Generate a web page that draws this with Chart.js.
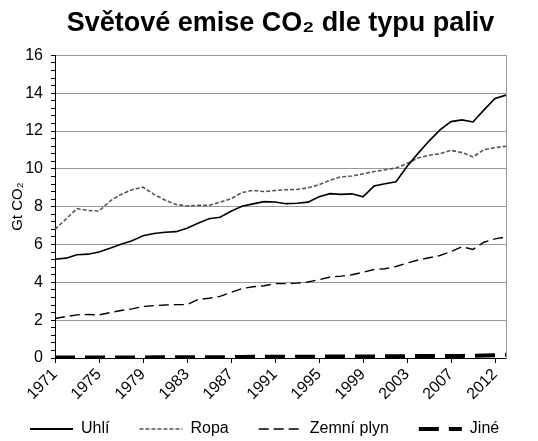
<!DOCTYPE html>
<html>
<head>
<meta charset="utf-8">
<script src="https://cdn.jsdelivr.net/npm/chart.js@4/dist/chart.umd.min.js"></script>
<style>
  html, body { margin: 0; padding: 0; background: #fff; }
  #wrap { width: 538px; height: 441px; }
</style>
</head>
<body>
<div id="wrap"><canvas id="emiseChart" width="538" height="441"></canvas></div>
<script>
const years = [
  "1971", "1972", "1973", "1974", "1975", "1976", "1977", "1978", "1979", "1980",
  "1981", "1982", "1983", "1984", "1985", "1986", "1987", "1988", "1989", "1990",
  "1991", "1992", "1993", "1994", "1995", "1996", "1997", "1998", "1999", "2000",
  "2001", "2002", "2003", "2004", "2005", "2006", "2007", "2008", "2009", "2010",
  "2011", "2012"
];

// labels printed under the axis, one every 4 categories
const tickLabels = ["1971", "1975", "1979", "1983", "1987", "1991", "1995", "1999", "2003", "2007", "2012"];

// Gt CO2
const uhli = [
  5.22, 5.28, 5.46, 5.49, 5.60, 5.80, 6.02, 6.20, 6.46, 6.58,
  6.65, 6.68, 6.86, 7.12, 7.36, 7.44, 7.76, 8.02, 8.15, 8.27,
  8.25, 8.16, 8.18, 8.24, 8.53, 8.69, 8.65, 8.68, 8.52, 9.09,
  9.21, 9.32, 10.12, 10.82, 11.47, 12.06, 12.50, 12.59, 12.48, 13.12,
  13.72, 13.90
];
const ropa = [
  6.80, 7.35, 7.90, 7.80, 7.77, 8.30, 8.65, 8.90, 9.03, 8.65,
  8.35, 8.12, 8.04, 8.07, 8.07, 8.24, 8.42, 8.75, 8.86, 8.80,
  8.86, 8.90, 8.91, 9.00, 9.16, 9.40, 9.58, 9.62, 9.74, 9.86,
  9.95, 10.05, 10.28, 10.58, 10.72, 10.80, 10.98, 10.86, 10.63, 11.02,
  11.12, 11.20
];
const zemniPlyn = [
  2.09, 2.19, 2.28, 2.30, 2.28, 2.40, 2.51, 2.60, 2.72, 2.77,
  2.80, 2.82, 2.82, 3.09, 3.16, 3.26, 3.47, 3.67, 3.77, 3.82,
  3.93, 3.93, 3.96, 4.02, 4.14, 4.28, 4.33, 4.40, 4.53, 4.68,
  4.72, 4.84, 5.02, 5.18, 5.30, 5.42, 5.63, 5.88, 5.74, 6.12,
  6.30, 6.40
];
const jine = [
  0.03, 0.03, 0.03, 0.03, 0.03, 0.03, 0.03, 0.03, 0.03, 0.04,
  0.04, 0.04, 0.04, 0.04, 0.04, 0.04, 0.05, 0.05, 0.06, 0.06,
  0.07, 0.07, 0.07, 0.07, 0.07, 0.08, 0.08, 0.08, 0.08, 0.08,
  0.09, 0.09, 0.09, 0.10, 0.10, 0.10, 0.11, 0.11, 0.12, 0.13,
  0.15, 0.17
];

const font = "'Liberation Sans', Arial, sans-serif";

function isMajor(v) {
  return Math.abs(v / 2 - Math.round(v / 2)) < 1e-6;
}

// the legend sits a bit higher than Chart.js would put it
const liftLegend = {
  id: "liftLegend",
  afterLayout(chart) {
    chart.legend.top -= 13;
  },
};

const ctx = document.getElementById("emiseChart").getContext("2d");

new Chart(ctx, {
  type: "line",
  data: {
    labels: years,
    datasets: [
      { label: "Uhlí", data: uhli, borderColor: "#000", borderWidth: 1.6, borderDash: [] },
      { label: "Ropa", data: ropa, borderColor: "#555", borderWidth: 1.6, borderDash: [4, 2] },
      { label: "Zemní plyn", data: zemniPlyn, borderColor: "#000", borderWidth: 1.4, borderDash: [10, 5] },
      { label: "Jiné", data: jine, borderColor: "#000", borderWidth: 4, borderDash: [20, 10] },
    ].map((d) => ({ ...d, fill: false, tension: 0, pointRadius: 0, pointHoverRadius: 0 })),
  },
  plugins: [liftLegend],
  options: {
    responsive: false,
    animation: false,
    layout: { padding: 0 },
    plugins: {
      title: {
        display: true,
        text: "Světové emise CO₂ dle typu paliv",
        color: "#000",
        fullSize: false,
        font: { family: font, size: 27, weight: "bold" },
        padding: { top: 7, bottom: 16 },
      },
      legend: {
        position: "bottom",
        align: "start",
        maxHeight: 37,
        labels: {
          color: "#000",
          font: { family: font, size: 16 },
          usePointStyle: true,
          pointStyle: "line",
          pointStyleWidth: 43,
          padding: 30,
          generateLabels: (chart) =>
            chart.data.datasets.map((ds, i) => ({
              text: ds.label,
              datasetIndex: i,
              hidden: false,
              pointStyle: "line",
              strokeStyle: ds.borderColor,
              fillStyle: ds.borderColor,
              lineWidth: i === 0 ? 2 : ds.borderWidth,
              lineDash: ds.borderDash,
              fontColor: "#000",
            })),
        },
      },
      tooltip: { enabled: false },
    },
    scales: {
      x: {
        offset: false,
        afterFit: (axis) => { axis.height = 46; },
        grid: {
          drawOnChartArea: false,
          tickLength: 5,
          tickColor: (c) => (c.index % 4 === 0 ? "#000" : "rgba(0,0,0,0)"),
        },
        border: { color: "#000", width: 1 },
        ticks: {
          autoSkip: false,
          maxRotation: 45,
          minRotation: 45,
          color: "#000",
          font: { family: font, size: 16 },
          padding: 2,
          callback: (val, i) => (i % 4 === 0 ? tickLabels[i / 4] : ""),
        },
      },
      y: {
        min: 0,
        max: 16,
        afterFit: (axis) => { axis.width = 55; },
        grid: {
          color: (c) => (isMajor(c.tick.value) ? "#999" : "rgba(0,0,0,0)"),
          tickColor: "#000",
          tickLength: 4,
        },
        border: { color: "#000", width: 1 },
        ticks: {
          stepSize: 0.4,
          autoSkip: false,
          color: "#000",
          font: { family: font, size: 16 },
          padding: 8,
          callback: (v) => (isMajor(v) ? Math.round(v) : ""),
        },
        title: {
          display: true,
          text: "Gt CO₂",
          color: "#000",
          font: { family: font, size: 15 },
          padding: { top: 9, bottom: 0 },
        },
      },
      y2: {
        position: "right",
        min: 0,
        max: 16,
        afterFit: (axis) => { axis.width = 32; },
        grid: { drawOnChartArea: false, drawTicks: false },
        border: { color: "#999", width: 1 },
        ticks: { display: false },
      },
    },
  },
});
</script>
</body>
</html>
